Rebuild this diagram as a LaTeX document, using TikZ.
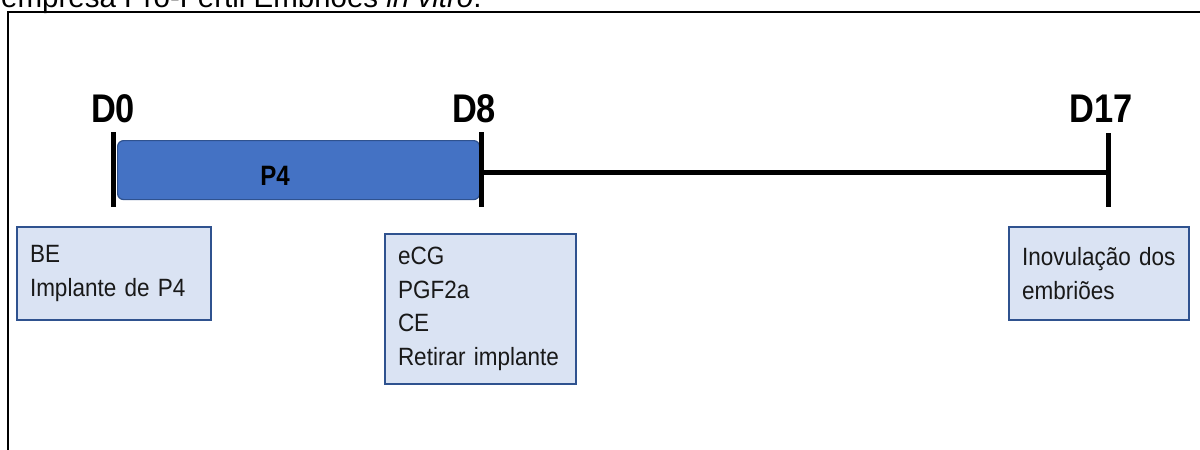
\documentclass[tikz,border=0pt]{standalone}
\usepackage{fontspec}
\setmainfont{Liberation Sans}
\newfontfamily\narrowsans[FakeStretch=0.9,WordSpace=0.8]{Liberation Sans}
\newfontfamily\daysans[FakeStretch=0.86]{Liberation Sans}
\definecolor{barblue}{HTML}{4472C4}
\definecolor{edgeblue}{HTML}{2F528F}
\definecolor{boxfill}{HTML}{DAE3F3}
\begin{document}
\begin{tikzpicture}[x=1pt,y=-1pt,
  daytick/.style={line width=5pt, black},
  timeline/.style={line width=5pt, black},
  daylabel/.style={anchor=base, inner sep=0, font=\daysans\bfseries\fontsize{40}{40}\selectfont},
  phasebar/.style={draw=edgeblue, line width=1.2pt, fill=barblue, rounded corners=6pt,
    anchor=north west, inner sep=0},
  barlabel/.style={inner sep=0, font=\daysans\bfseries\fontsize{28}{28}\selectfont},
  notebox/.style={draw=edgeblue, line width=2pt, fill=boxfill, anchor=north west,
    align=left, inner xsep=13pt, inner ysep=0pt,
    font=\narrowsans\fontsize{25}{33.5}\selectfont, text=black!90}]
\useasboundingbox (0,0) rectangle (1200,450);

% running title line, partly above the frame
\begin{scope}
  \clip (0,0) rectangle (1200,450);
  \node[anchor=base west, inner sep=0, font=\fontsize{29.5}{30}\selectfont] (title) at (1,7)
    {empresa Pró-Fértil Embriões \textit{in vitro}.};
\end{scope}

% frame
\draw[line width=1.5pt] (8,450) -- (8,12) -- (1200,12);

% tick positions
\coordinate (t0top) at (113,132);  \coordinate (t0bot) at (113,207);
\coordinate (t8top) at (481,132);  \coordinate (t8bot) at (481,207);
\coordinate (t17top) at (1108,133); \coordinate (t17bot) at (1108,207);
\coordinate (t8mid) at (481,172);  \coordinate (t17mid) at (1108,172);

% P4 phase bar
\node[phasebar, minimum width=362pt, minimum height=59pt] (bar) at (117,140) {};
\node[barlabel] (p4) at (275,176) {P4};

% timeline after the bar
\draw[timeline] (t8mid) -- (t17mid);

% day ticks
\draw[daytick] (t0top) -- (t0bot);
\draw[daytick] (t8top) -- (t8bot);
\draw[daytick] (t17top) -- (t17bot);

% day labels
\node[daylabel] (d0) at (113,122) {D0};
\node[daylabel] (d8) at (474,122) {D8};
\node[daylabel] (d17) at (1101,122) {D17};

% notes under the days
\node[notebox, text width=168pt, minimum height=93pt] (box0) at (16,226)
  {BE\\Implante de P4};
\node[notebox, text width=165pt, minimum height=150pt] (box8) at (384,233)
  {eCG\\PGF2a\\CE\\Retirar implante};
\node[notebox, text width=154pt, minimum height=93pt] (box17) at (1008,226)
  {Inovulação dos\\embriões};
\end{tikzpicture}
\end{document}
